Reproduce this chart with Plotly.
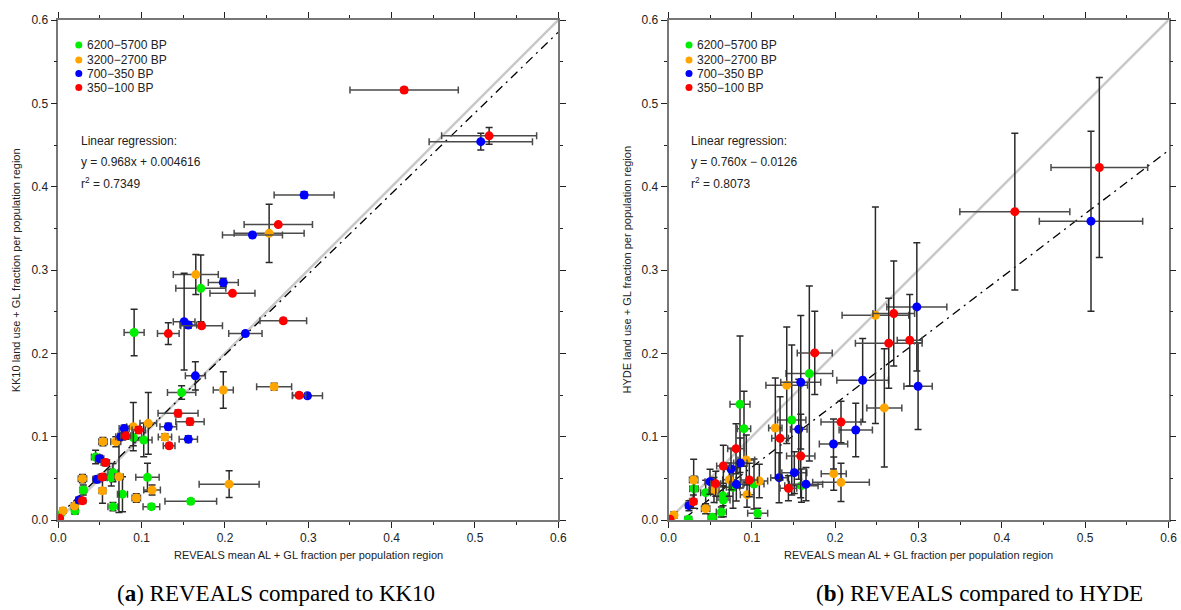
import plotly.graph_objects as go

periods = ["6200−5700 BP", "3200−2700 BP", "700−350 BP", "350−100 BP"]
period_colors = ["#00ee00", "#ffa500", "#0000ff", "#ff0000"]

# ---------- KK10 panel ----------
kk_g_x = [0.171, 0.091, 0.148, 0.090, 0.1025, 0.0448, 0.0656, 0.0636, 0.107, 0.077, 0.030, 0.0656, 0.1117, 0.159, 0.020, 0.0024]
kk_g_y = [0.278, 0.225, 0.153, 0.099, 0.096, 0.0756, 0.0568, 0.0508, 0.0512, 0.031, 0.036, 0.016, 0.016, 0.0224, 0.011, 0.0064]
kk_g_xe = [0.03, 0.012, 0.017, 0.01, 0.01, 0.005, 0.006, 0.005, 0.014, 0.006, 0.004, 0.006, 0.01, 0.031, 0.004, 0.003]
kk_g_ye = [0.04, 0.028, 0.008, 0.01, 0.02, 0.008, 0.011, 0.01, 0.017, 0.021, 0.006, 0.005, 0.003, 0.003, 0.004, 0.003]

kk_o_x = [0.253, 0.165, 0.198, 0.259, 0.205, 0.108, 0.090, 0.069, 0.0536, 0.128, 0.029, 0.0728, 0.1125, 0.0936, 0.053, 0.0196, 0.0056]
kk_o_y = [0.344, 0.2945, 0.156, 0.160, 0.043, 0.116, 0.112, 0.094, 0.094, 0.0996, 0.0496, 0.052, 0.036, 0.0264, 0.035, 0.0168, 0.011]
kk_o_xe = [0.042, 0.027, 0.012, 0.021, 0.036, 0.01, 0.008, 0.006, 0.005, 0.008, 0.005, 0.005, 0.01, 0.005, 0.004, 0.004, 0.003]
kk_o_ye = [0.035, 0.024, 0.022, 0.004, 0.016, 0.037, 0.029, 0.006, 0.005, 0.004, 0.005, 0.043, 0.006, 0.005, 0.015, 0.004, 0.003]

kk_b_x = [0.507, 0.295, 0.233, 0.198, 0.151, 0.156, 0.2245, 0.1645, 0.299, 0.156, 0.132, 0.079, 0.075, 0.0496, 0.0464, 0.025]
kk_b_y = [0.454, 0.390, 0.342, 0.285, 0.238, 0.234, 0.2237, 0.173, 0.149, 0.097, 0.112, 0.1097, 0.100, 0.0736, 0.0488, 0.024]
kk_b_xe = [0.062, 0.036, 0.036, 0.018, 0.013, 0.01, 0.02, 0.012, 0.018, 0.011, 0.01, 0.006, 0.006, 0.005, 0.005, 0.004]
kk_b_ye = [0.01, 0.004, 0.003, 0.005, 0.058, 0.004, 0.003, 0.017, 0.003, 0.004, 0.004, 0.004, 0.004, 0.004, 0.004, 0.003]

kk_r_x = [0.415, 0.517, 0.264, 0.209, 0.172, 0.132, 0.27, 0.289, 0.1437, 0.158, 0.0965, 0.081, 0.133, 0.0564, 0.053, 0.029, 0.0016]
kk_r_y = [0.516, 0.461, 0.3545, 0.272, 0.233, 0.2237, 0.239, 0.1497, 0.128, 0.118, 0.108, 0.101, 0.089, 0.069, 0.0516, 0.023, 0.002]
kk_r_xe = [0.065, 0.057, 0.041, 0.027, 0.025, 0.013, 0.028, 0.008, 0.024, 0.017, 0.008, 0.006, 0.007, 0.005, 0.005, 0.004, 0.002]
kk_r_ye = [0.003, 0.01, 0.002, 0.002, 0.003, 0.013, 0.003, 0.003, 0.004, 0.004, 0.004, 0.004, 0.003, 0.004, 0.004, 0.003, 0.002]

# ---------- HYDE panel ----------
hy_g_x = [0.169, 0.0858, 0.0906, 0.1479, 0.1595, 0.0306, 0.0446, 0.0658, 0.0774, 0.1026, 0.0654, 0.0634, 0.0526, 0.107, 0.0238]
hy_g_y = [0.1757, 0.1389, 0.1096, 0.120, 0.0412, 0.0376, 0.0328, 0.024, 0.0392, 0.0432, 0.029, 0.0096, 0.0032, 0.008, 0.001]
hy_g_xe = [0.028, 0.012, 0.008, 0.017, 0.02, 0.005, 0.006, 0.008, 0.008, 0.012, 0.006, 0.006, 0.005, 0.012, 0.004]
hy_g_ye = [0.105, 0.082, 0.045, 0.09, 0.02, 0.015, 0.015, 0.02, 0.025, 0.03, 0.012, 0.006, 0.004, 0.006, 0.003]

hy_o_x = [0.2483, 0.1419, 0.1282, 0.259, 0.1983, 0.207, 0.0934, 0.073, 0.0546, 0.0302, 0.109, 0.0942, 0.0446, 0.0066]
hy_o_y = [0.2457, 0.1617, 0.1104, 0.1345, 0.0556, 0.0452, 0.072, 0.0484, 0.036, 0.048, 0.0468, 0.0304, 0.0136, 0.006]
hy_o_xe = [0.04, 0.025, 0.008, 0.021, 0.015, 0.034, 0.01, 0.008, 0.006, 0.005, 0.01, 0.008, 0.005, 0.003]
hy_o_ye = [0.13, 0.07, 0.06, 0.071, 0.02, 0.023, 0.03, 0.02, 0.015, 0.025, 0.02, 0.015, 0.006, 0.004]

hy_b_x = [0.507, 0.298, 0.233, 0.1587, 0.1563, 0.2247, 0.198, 0.2995, 0.151, 0.1327, 0.165, 0.0862, 0.075, 0.0498, 0.0814, 0.0246]
hy_b_y = [0.3586, 0.2557, 0.1677, 0.1653, 0.1089, 0.108, 0.0912, 0.1605, 0.0568, 0.0508, 0.043, 0.0684, 0.0612, 0.046, 0.0428, 0.0172]
hy_b_xe = [0.062, 0.036, 0.031, 0.024, 0.01, 0.02, 0.017, 0.017, 0.015, 0.01, 0.02, 0.008, 0.008, 0.006, 0.008, 0.004]
hy_b_ye = [0.108, 0.077, 0.05, 0.08, 0.06, 0.032, 0.03, 0.052, 0.025, 0.03, 0.02, 0.03, 0.025, 0.015, 0.02, 0.006]

hy_r_x = [0.4156, 0.517, 0.2703, 0.2643, 0.2895, 0.1755, 0.207, 0.1339, 0.1587, 0.1439, 0.081, 0.0658, 0.0567, 0.097, 0.0298, 0.0018]
hy_r_y = [0.370, 0.423, 0.2477, 0.2121, 0.2157, 0.2005, 0.1176, 0.098, 0.0768, 0.038, 0.0856, 0.0648, 0.0436, 0.048, 0.022, 0.001]
hy_r_xe = [0.066, 0.058, 0.025, 0.04, 0.015, 0.021, 0.024, 0.01, 0.017, 0.01, 0.01, 0.008, 0.006, 0.01, 0.004, 0.002]
hy_r_ye = [0.094, 0.108, 0.063, 0.054, 0.055, 0.05, 0.025, 0.05, 0.05, 0.015, 0.03, 0.025, 0.015, 0.02, 0.008, 0.002]

# regression results
kk_slope, kk_intercept, kk_r2 = 0.968, 0.004616, "0.7349"
hy_slope, hy_intercept, hy_r2 = 0.760, -0.0126, "0.8073"
kk_eq = "y = 0.968x + 0.004616"
hy_eq = "y = 0.760x − 0.0126"

tick_vals = [0.0, 0.1, 0.2, 0.3, 0.4, 0.5, 0.6]
tick_text = ["0.0", "0.1", "0.2", "0.3", "0.4", "0.5", "0.6"]
line_x = [0.0, 0.6]

W, H = 1181, 610
ML, MT, MB = 0, 20, 90
PH = H - MT - MB
left_dom = [58.3 / W, 558.3 / W]
right_dom = [668.5 / W, 1168.5 / W]

fig = go.Figure()

panels = [
    ("x", "y", [(kk_g_x, kk_g_y, kk_g_xe, kk_g_ye), (kk_o_x, kk_o_y, kk_o_xe, kk_o_ye),
                (kk_b_x, kk_b_y, kk_b_xe, kk_b_ye), (kk_r_x, kk_r_y, kk_r_xe, kk_r_ye)],
     kk_slope, kk_intercept),
    ("x2", "y2", [(hy_g_x, hy_g_y, hy_g_xe, hy_g_ye), (hy_o_x, hy_o_y, hy_o_xe, hy_o_ye),
                  (hy_b_x, hy_b_y, hy_b_xe, hy_b_ye), (hy_r_x, hy_r_y, hy_r_xe, hy_r_ye)],
     hy_slope, hy_intercept),
]

for xa, ya, series, slope, icpt in panels:
    fig.add_trace(go.Scatter(x=line_x, y=line_x, mode="lines", xaxis=xa, yaxis=ya,
                             line=dict(color="#c8c8c8", width=2.5), showlegend=False, hoverinfo="skip"))
    fig.add_trace(go.Scatter(x=line_x, y=[slope * v + icpt for v in line_x], mode="lines",
                             xaxis=xa, yaxis=ya,
                             line=dict(color="black", width=1.3, dash="9px,5px,2px,5px"),
                             showlegend=False, hoverinfo="skip"))
    for (sx, sy, sxe, sye), col, name in zip(series, period_colors, periods):
        fig.add_trace(go.Scatter(
            x=sx, y=sy, mode="markers", xaxis=xa, yaxis=ya, name=name, showlegend=False,
            marker=dict(color=col, size=9, line=dict(width=0)),
            error_x=dict(type="data", array=sxe, color="#4a4a4a", thickness=1.5, width=3.5),
            error_y=dict(type="data", array=sye, color="#2a2a2a", thickness=1.5, width=3.5),
        ))

axis_common = dict(
    range=[0, 0.6], tickvals=tick_vals, ticktext=tick_text, ticks="outside", ticklen=6,
    tickwidth=1.2, tickcolor="#222", showline=True, linecolor="#777", linewidth=1.6,
    mirror="ticks", showgrid=False, zeroline=False, automargin=False,
    tickfont=dict(family="Liberation Sans, Arial", size=12, color="#222"),
    minor=dict(dtick=0.05, tick0=0, ticks="outside", ticklen=3, tickwidth=1.2, tickcolor="#222"),
)

fig.update_layout(
    width=W, height=H, margin=dict(l=ML, r=0, t=MT, b=MB),
    paper_bgcolor="white", plot_bgcolor="white", showlegend=False,
    xaxis=dict(domain=left_dom, anchor="y", **axis_common),
    yaxis=dict(domain=[0, 1], anchor="x", **axis_common),
    xaxis2=dict(domain=right_dom, anchor="y2", **axis_common),
    yaxis2=dict(domain=[0, 1], anchor="x2", **axis_common),
)

txt_font = dict(family="Liberation Sans, Arial", size=12, color="#222")
ann = []
shapes = []
legend_rows_px = [45, 60, 73.5, 87.5]
for dom, eq, r2, ytitle, cap, capx in [
    (left_dom, kk_eq, kk_r2, "KK10 land use + GL fraction per population region",
     "(<b>a</b>) REVEALS compared to KK10", 276),
    (right_dom, hy_eq, hy_r2, "HYDE land use + GL fraction per population region",
     "(<b>b</b>) REVEALS compared to HYDE", 980),
]:
    x0px = dom[0] * W
    for row, (lab, col) in enumerate(zip(periods, period_colors)):
        yp = (H - MB - legend_rows_px[row]) / PH
        shapes.append(dict(type="circle", xref="paper", yref="paper", xsizemode="pixel", ysizemode="pixel",
                           xanchor=(x0px + 20.5) / W, yanchor=yp, x0=-3.5, x1=3.5, y0=-3.5, y1=3.5,
                           fillcolor=col, line=dict(width=0)))
        ann.append(dict(xref="paper", yref="paper", x=(x0px + 26.5) / W, y=yp, text=lab,
                        xanchor="left", yanchor="middle", showarrow=False, font=txt_font))
    for ypx, t in [(141, "Linear regression:"), (162.3, eq), (182.7, "r<sup>2</sup> = " + r2)]:
        ann.append(dict(xref="paper", yref="paper", x=(x0px + 20.5) / W, y=(H - MB - ypx) / PH, text=t,
                        xanchor="left", yanchor="middle", showarrow=False, font=txt_font))
    # axis titles
    ann.append(dict(xref="paper", yref="paper", x=(dom[0] + dom[1]) / 2, y=(H - MB - 555) / PH,
                    text="REVEALS mean AL + GL fraction per population region", xanchor="center",
                    yanchor="middle", showarrow=False,
                    font=dict(family="Liberation Sans, Arial", size=11, color="#222")))
    ann.append(dict(xref="paper", yref="paper", x=(x0px - 42) / W, y=0.5, text=ytitle, textangle=-90,
                    xanchor="center", yanchor="middle", showarrow=False,
                    font=dict(family="Liberation Sans, Arial", size=11, color="#222")))
    ann.append(dict(xref="paper", yref="paper", x=capx / W, y=(H - MB - 593) / PH, text=cap,
                    xanchor="center", yanchor="middle", showarrow=False,
                    font=dict(family="Liberation Serif, serif", size=23, color="black")))

fig.update_layout(annotations=ann, shapes=shapes)
fig.write_html("out.html", config={"displayModeBar": False},
               post_script="document.body.style.margin='0';document.body.style.overflow='hidden';")
